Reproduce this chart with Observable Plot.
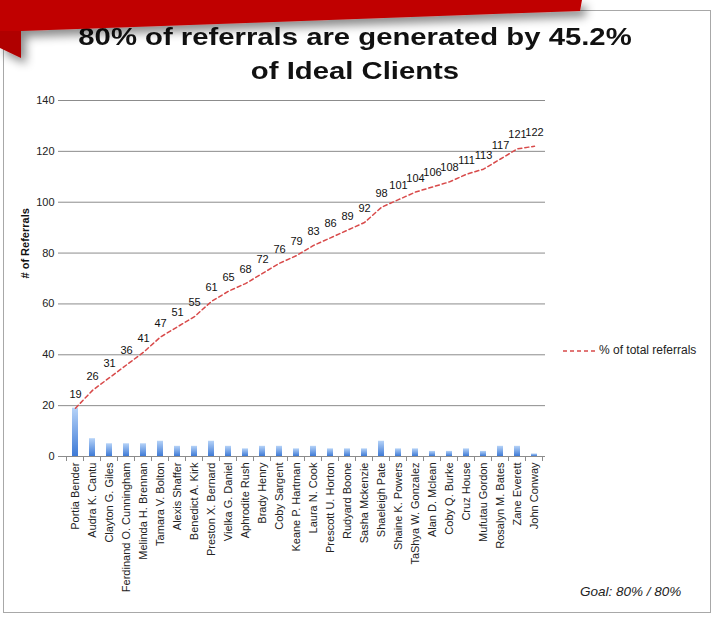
<!DOCTYPE html>
<html>
<head>
<meta charset="utf-8">
<script src="https://cdn.jsdelivr.net/npm/d3@7"></script>
<script src="https://cdn.jsdelivr.net/npm/@observablehq/plot@0.6"></script>
<style>
  html, body { margin: 0; padding: 0; background: #fff; }
  #wrap { position: relative; width: 712px; height: 617px; overflow: hidden;
          font-family: "Liberation Sans", Arial, sans-serif; color: #222; }
  #frame { position: absolute; left: 3px; top: 10px; width: 708px; height: 603px;
           border: 1px solid #a8a8a8; box-sizing: border-box; }
  #chart { position: absolute; left: 0; top: 0; }
  #title { position: absolute; left: 0; top: 20px; width: 710px; text-align: center;
           font-weight: bold; font-size: 24px; line-height: 34px; color: #111;
           transform: scaleX(1.22); transform-origin: 355px 0; white-space: nowrap; }
  #banner { position: absolute; left: 0; top: 0; }
  #legend { position: absolute; left: 563px; top: 344px; font-size: 12px; line-height: 12px;
            white-space: nowrap; display: flex; align-items: center; }
  #goal { position: absolute; left: 580px; top: 585px; font-size: 13.5px; line-height: 13.5px;
          font-style: italic; white-space: nowrap; }
</style>
</head>
<body>
<div id="wrap">
  <div id="frame"></div>
  <div id="chart"></div>
  <div id="title"></div>
  <svg id="banner" width="712" height="90">
    <defs>
      <filter id="shadow" x="-20%" y="-50%" width="140%" height="250%">
        <feDropShadow dx="5" dy="6" stdDeviation="5" flood-color="#000" flood-opacity="0.45"/>
      </filter>
    </defs>
    <g filter="url(#shadow)">
      <polygon points="0,0 21,0 21,58 0,48" fill="#b00000"/>
      <polygon points="0,0 582,0 580,11 21,31 0,31" fill="#c00000"/>
    </g>
  </svg>
  <div id="legend"></div>
  <div id="goal"></div>
</div>
<script>
const titleLines = ["80% of referrals are generated by 45.2%", "of Ideal Clients"];
const yLabel = "# of Referrals";
const legendLabel = "% of total referrals";
const goalText = "Goal: 80% / 80%";

const names = [
  "Portia Bender", "Audra K. Cantu", "Clayton G. Giles", "Ferdinand O. Cunningham",
  "Melinda H. Brennan", "Tamara V. Bolton", "Alexis Shaffer", "Benedict A. Kirk",
  "Preston X. Bernard", "Vielka G. Daniel", "Aphrodite Rush", "Brady Henry",
  "Coby Sargent", "Keane P. Hartman", "Laura N. Cook", "Prescott U. Horton",
  "Rudyard Boone", "Sasha Mckenzie", "Shaeleigh Pate", "Shaine K. Powers",
  "TaShya W. Gonzalez", "Alan D. Mclean", "Coby Q. Burke", "Cruz House",
  "Mufutau Gordon", "Rosalyn M. Bates", "Zane Everett", "John Conway"
];
const referrals = [19, 7, 5, 5, 5, 6, 4, 4, 6, 4, 3, 4, 4, 3, 4, 3, 3, 3, 6, 3, 3, 2, 2, 3, 2, 4, 4, 1];
const cumulative = [19, 26, 31, 36, 41, 47, 51, 55, 61, 65, 68, 72, 76, 79, 83, 86, 89, 92, 98, 101, 104, 106, 108, 111, 113, 117, 121, 122];
const yTicks = [0, 20, 40, 60, 80, 100, 120, 140];

const data = names.map((name, i) => ({name, referrals: referrals[i], cumulative: cumulative[i]}));

document.getElementById("title").innerHTML = titleLines.map(t => `<div>${t}</div>`).join("");
document.getElementById("goal").textContent = goalText;
document.getElementById("legend").innerHTML =
  `<svg width="36" height="12" style="display:block"><line x1="0" y1="7" x2="34" y2="7" stroke="#d84a4a" stroke-width="1.5" stroke-dasharray="4,3"/></svg><span>${legendLabel}</span>`;

const gridColor = "#8c8c8c";

const chart = Plot.plot({
  width: 712, height: 617,
  marginLeft: 65, marginRight: 167, marginTop: 100, marginBottom: 161,
  style: {fontFamily: '"Liberation Sans", Arial, sans-serif', fontSize: "11px", color: "#222", background: "transparent"},
  x: {domain: names, paddingInner: 0.62, paddingOuter: 0.31, label: null},
  y: {domain: [0, 140], label: null},
  marks: [
    Plot.gridY(yTicks, {stroke: gridColor, strokeOpacity: 1}),
    Plot.barY(data, {x: "name", y: "referrals", fill: "url(#barGrad)"}),
    Plot.lineY(data, {x: "name", y: "cumulative", stroke: "#d84a4a", strokeWidth: 1.5, strokeDasharray: "4,3"}),
    Plot.text(data, {x: "name", y: "cumulative", text: d => String(d.cumulative), dy: -14, fill: "#111", fontSize: 11}),
    Plot.axisY({ticks: yTicks, tickSize: 7, tickPadding: 4, line: true, stroke: gridColor, fill: "#222", label: null}),
    Plot.axisX({tickRotate: -90, tickSize: 0, tickPadding: 6, line: true, stroke: gridColor, fill: "#222", label: null}),
    Plot.text([yLabel], {text: d => d, frameAnchor: "left", dx: -40, rotate: -90, fontWeight: "bold", fontSize: 11, fill: "#111"})
  ]
});

document.getElementById("chart").appendChild(chart);

// gradient for bars + category boundary tick marks, positioned via Plot's scales
const svg = d3.select(chart);
const defs = svg.insert("defs", ":first-child");
const grad = defs.append("linearGradient").attr("id", "barGrad")
  .attr("x1", 0).attr("y1", 0).attr("x2", 0).attr("y2", 1);
grad.append("stop").attr("offset", "0%").attr("stop-color", "#b6d3f8");
grad.append("stop").attr("offset", "100%").attr("stop-color", "#3e7ad6");

const xs = chart.scale("x");
const ys = chart.scale("y");
const y0 = ys.apply(0);
const bounds = names.map(n => xs.apply(n) + xs.bandwidth / 2 - xs.step / 2);
bounds.push(xs.apply(names[names.length - 1]) + xs.bandwidth / 2 + xs.step / 2);
svg.append("g").attr("stroke", gridColor)
  .selectAll("line").data(bounds).join("line")
  .attr("x1", d => d).attr("x2", d => d)
  .attr("y1", y0).attr("y2", y0 + 5);
</script>
</body>
</html>
